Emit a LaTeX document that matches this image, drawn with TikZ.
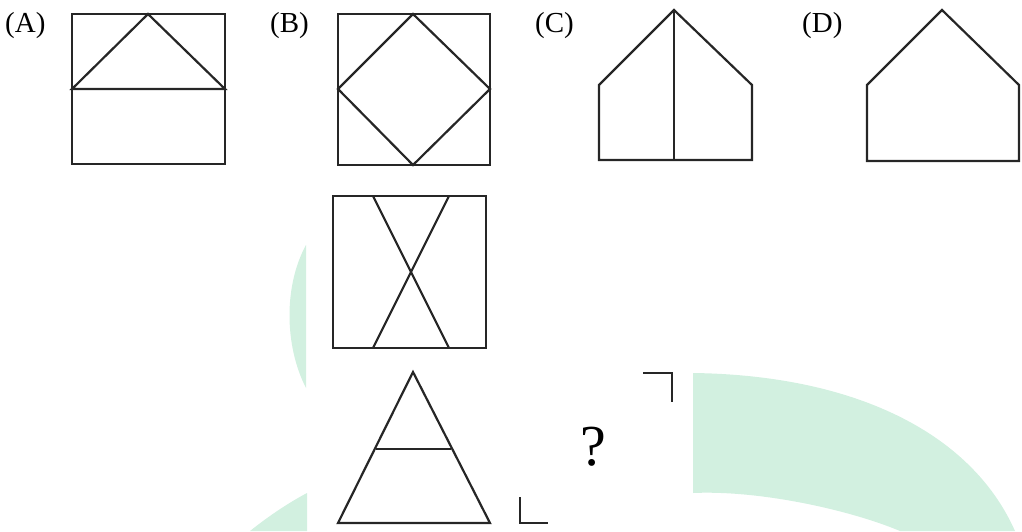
\documentclass[tikz,border=0pt]{standalone}
\usepackage{fontspec}
\setmainfont{Liberation Serif}
\definecolor{wmgreen}{RGB}{210,240,224}
\begin{document}
\begin{tikzpicture}[x=1pt, y=-1pt,
        fig/.style={draw=black!85, line width=2.2pt},
        lbl/.style={anchor=base west, inner sep=0pt, font=\fontsize{29}{33}\selectfont},
        wm/.style={fill=wmgreen, draw=none}]
    \useasboundingbox (0,0) rectangle (1022,531);
    % watermark in the background
    \fill[wm] (693,373) .. controls (850,375) and (970,430) .. (1015,531) -- (900,531) .. controls (850,510) and (760,490) .. (693,493) -- cycle;
    \fill[wm] (306,245) .. controls (284,285) and (284,345) .. (306,388) -- cycle;
    \fill[wm] (250,531) .. controls (270,515) and (290,502) .. (307,493) -- (307,531) -- cycle;
    % labels
    \node[lbl] (labA) at (5,32) {(A)};
    \node[lbl] (labB) at (270,32) {(B)};
    \node[lbl] (labC) at (535,32) {(C)};
    \node[lbl] (labD) at (802,32) {(D)};
    % (A)
    \draw[fig] (72,14) rectangle (225,164);
    \draw[fig] (72,89) -- (148,14) -- (225,89) -- cycle;
    % (B)
    \draw[fig] (338,14) rectangle (490,165);
    \draw[fig] (413,14) -- (490,89) -- (413,165) -- (338,89) -- cycle;
    % (C)
    \draw[fig] (674,10) -- (752,85) -- (752,160) -- (599,160) -- (599,85) -- cycle;
    \draw[fig] (674,10) -- (674,160);
    % (D)
    \draw[fig] (942,10) -- (1019,85) -- (1019,161) -- (867,161) -- (867,85) -- cycle;
    % question
    \draw[fig] (333,196) rectangle (486,348);
    \draw[fig] (373,196) -- (449,348);
    \draw[fig] (449,196) -- (373,348);
    \draw[fig] (413,372) -- (490,523) -- (338,523) -- cycle;
    \draw[fig] (376,449) -- (451,449);
    \draw[fig] (520,497) -- (520,523) -- (548,523);
    \draw[fig] (643,373) -- (672,373) -- (672,402);
    \node[anchor=base, inner sep=0pt, font=\fontsize{58}{62}\selectfont] (qmark) at (593,465) {?};
\end{tikzpicture}
\end{document}
